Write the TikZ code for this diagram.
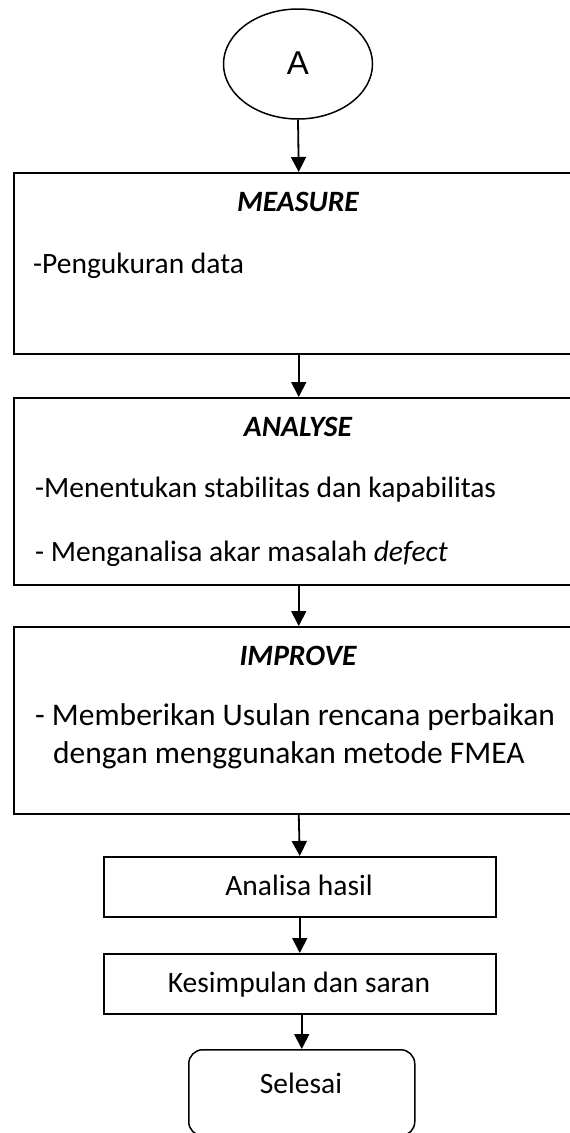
\documentclass[tikz,border=0pt]{standalone}
\usepackage{fontspec}
\setmainfont{Carlito}
\newfontfamily\arialf{Liberation Sans}
\usetikzlibrary{arrows.meta,shapes.geometric}
\begin{document}
\begin{tikzpicture}[x=1pt,y=-1pt,
  box/.style={draw,line width=1.5pt,inner sep=0pt,anchor=north west},
  txt/.style={font=\fontsize{29.5}{35}\selectfont,inner sep=0pt},
  bigtxt/.style={font=\fontsize{31.5}{37}\selectfont,inner sep=0pt},
  flow/.style={line width=1.8pt,-{Triangle[width=15pt,length=15pt]}}]
\useasboundingbox (0,0) rectangle (570,1133);
% start terminator
\node[draw,ellipse,line width=1.5pt,minimum width=149pt,minimum height=110pt,inner sep=0pt] (a) at (298,64) {};
\node[inner sep=0pt,anchor=base,font=\arialf\fontsize{33}{38}\selectfont] (at) at (298,74) {A};
% MEASURE
\node[box,minimum width=570pt,minimum height=181pt] (m) at (13,172) {};
\node[txt,anchor=base] (mt) at (298,211) {\bfseries\itshape MEASURE};
\node[txt,anchor=base west] (m1) at (33,273) {-Pengukuran data};
% ANALYSE
\node[box,minimum width=570pt,minimum height=187pt] (an) at (13,397) {};
\node[txt,anchor=base] (ant) at (298,436) {\bfseries\itshape ANALYSE};
\node[txt,anchor=base west] (an1) at (35,497) {-Menentukan stabilitas dan kapabilitas};
\node[txt,anchor=base west] (an2) at (35,561) {- Menganalisa akar masalah \itshape defect};
% IMPROVE
\node[box,minimum width=570pt,minimum height=187pt] (im) at (13,626) {};
\node[txt,anchor=base] (imt) at (298,665) {\bfseries\itshape IMPROVE};
\node[bigtxt,anchor=base west] (im1) at (35,725) {- Memberikan Usulan rencana perbaikan};
\node[bigtxt,anchor=base west] (im2) at (53,763) {dengan menggunakan metode FMEA};
% Analisa hasil
\node[box,minimum width=392pt,minimum height=60pt] (h) at (103,856) {};
\node[txt,anchor=base] (ht) at (299,895) {Analisa hasil};
% Kesimpulan
\node[box,minimum width=392pt,minimum height=60pt] (k) at (103,953) {};
\node[txt,anchor=base] (kt) at (299,992) {Kesimpulan dan saran};
% Selesai
\node[box,rounded corners=14pt,minimum width=226pt,minimum height=86pt] (s) at (188,1049) {};
\node[txt,anchor=base] (st) at (301,1093) {Selesai};
% connectors
\draw[flow] (a.south) -- (m.north);
\draw[flow] (m.south) -- (an.north);
\draw[flow] (an.south) -- (im.north);
\draw[flow] (im.south) -- (h.north);
\draw[flow] (h.south) -- (k.north);
\draw[flow] (s.north |- k.south) -- (s.north);
\end{tikzpicture}
\end{document}
